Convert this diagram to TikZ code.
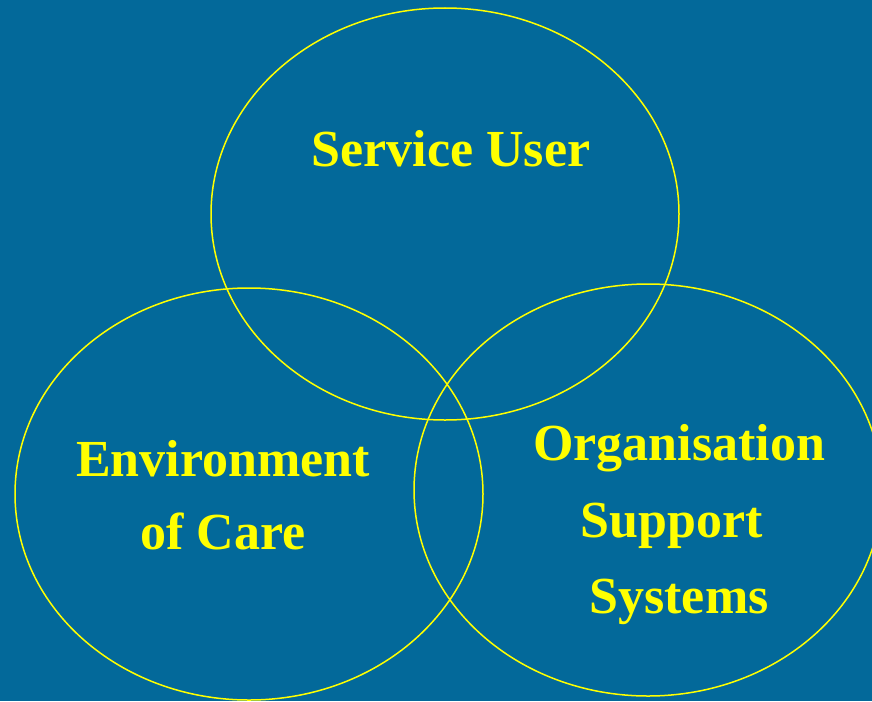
\documentclass[tikz,border=0pt]{standalone}
\usepackage{fontspec}
\setmainfont{Liberation Serif}
\definecolor{bgblue}{HTML}{03699A}
\definecolor{ringyellow}{HTML}{FFFF00}
\begin{document}
\begin{tikzpicture}[x=1pt,y=-1pt,
  ring/.style={draw=ringyellow,line width=1.5pt},
  label/.style={text=ringyellow,font=\fontsize{52}{60}\selectfont\bfseries,anchor=base,inner sep=0pt}]
  \fill[bgblue] (0,0) rectangle (872,701);
  \useasboundingbox (0,0) rectangle (872,701);
  \begin{scope}
    \clip (0,0) rectangle (872,701);
    \draw[ring] (445,214) ellipse [x radius=234, y radius=206];
    \draw[ring] (249,494) ellipse [x radius=234, y radius=206];
    \draw[ring] (648,490) ellipse [x radius=234, y radius=206];
  \end{scope}
  \node[label] (su) at (451,166) {Service User};
  \node[label] (env1) at (223,476) {Environment};
  \node[label] (env2) at (223,549) {of Care};
  \node[label] (org1) at (679,460) {Organisation};
  \node[label] (org2) at (672,537) {Support};
  \node[label] (org3) at (679,613) {Systems};
\end{tikzpicture}
\end{document}
